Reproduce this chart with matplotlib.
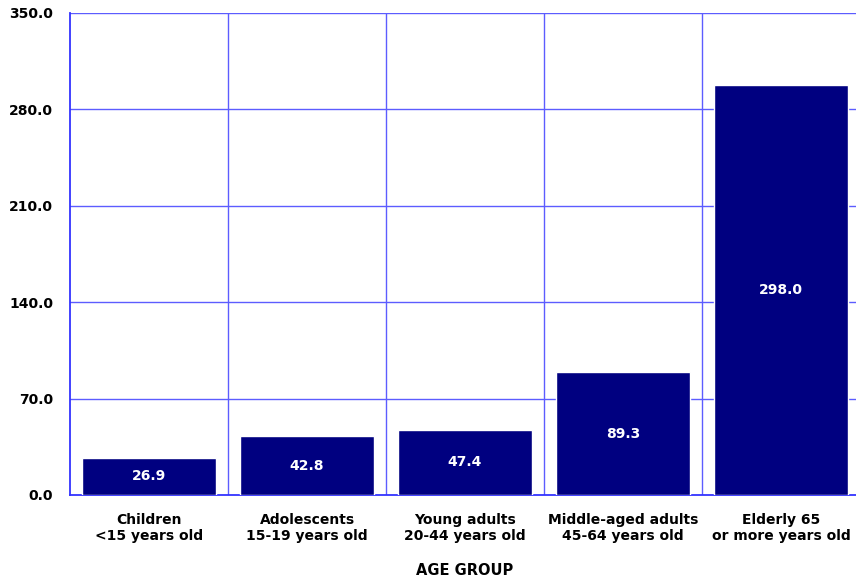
import matplotlib
matplotlib.use("Agg")
import matplotlib.pyplot as plt
import numpy as np

plt.rcParams["font.family"] = ["DejaVu Sans"]

categories = ["Children\n<15 years old", "Adolescents\n15-19 years old",
              "Young adults\n20-44 years old", "Middle-aged adults\n45-64 years old",
              "Elderly 65\nor more years old"]
values = [26.9, 42.8, 47.4, 89.3, 298.0]
yticks = [0, 70, 140, 210, 280, 350]

fig = plt.figure(figsize=(8.56, 5.82), dpi=100)
ax = fig.add_axes([70/856, 87/582, 790/856, 482/582])

x = np.arange(len(categories))
ax.bar(x, values, width=0.85, color="#000080", edgecolor="white", linewidth=1, zorder=3)
ax.set_xlim(-0.5, len(categories) - 0.5)
ax.set_ylim(0, 350)

grid_c = "#5c5cff"
for yv in yticks[1:]:
    ax.axhline(yv, color=grid_c, lw=1, zorder=1)
for b in np.arange(0.5, len(categories) - 0.5, 1):
    ax.axvline(b, color=grid_c, lw=1, zorder=1)

for s in ["top", "right"]:
    ax.spines[s].set_visible(False)
for s in ["left", "bottom"]:
    ax.spines[s].set_color("#3333ff")
    ax.spines[s].set_linewidth(1.3)

ax.set_yticks(yticks)
ax.set_yticklabels([f"{v:.1f}" for v in yticks], fontsize=10, fontweight="bold")
ax.tick_params(axis="y", length=0, pad=12)
ax.set_xticks(x)
ax.set_xticklabels(categories, fontsize=10, fontweight="bold", linespacing=1.2)
ax.tick_params(axis="x", length=0, pad=13)
ax.set_xlabel("AGE GROUP", fontsize=10.5, fontweight="bold", labelpad=14)

for xi, v in zip(x, values):
    ax.text(xi, v / 2, f"{v:.1f}", ha="center", va="center", color="white",
            fontsize=10, fontweight="bold", zorder=4)

fig.savefig("out.png", dpi=100)
